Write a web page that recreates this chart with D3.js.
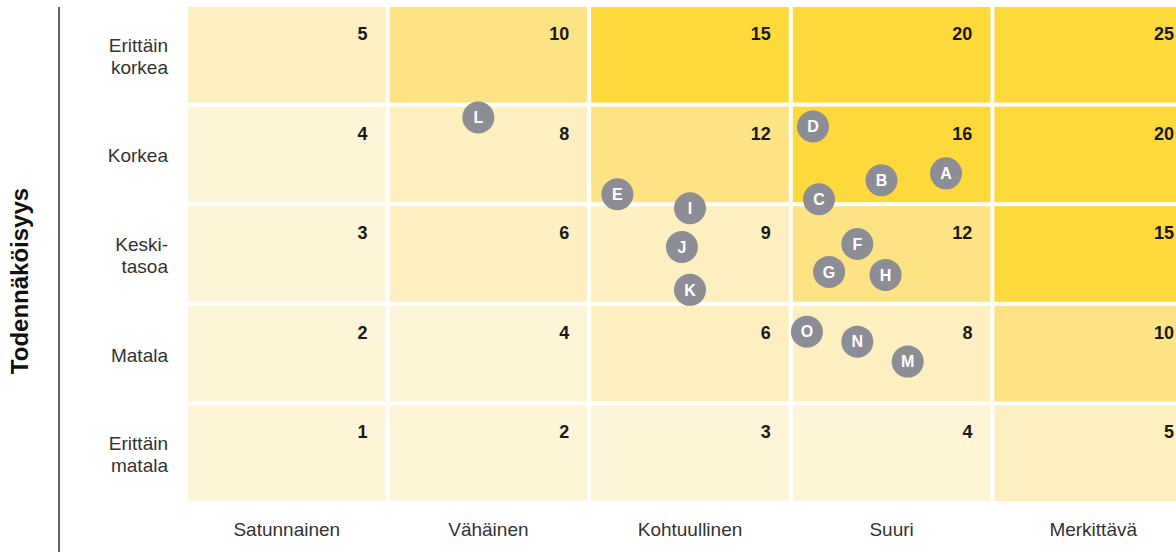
<!DOCTYPE html>
<html lang="fi">
<head>
    <meta charset="UTF-8">
    <title>Riskimatriisi</title>
    <style>
        body { margin: 0; background: #fff; }
        svg { display: block; font-family: "Liberation Sans", Arial, sans-serif; }
    </style>
</head>
<body>
    <div id="chart"></div>
    <script src="https://cdnjs.cloudflare.com/ajax/libs/d3/7.8.5/d3.min.js"></script>
    <script>
        // impact categories (x) and probability categories (y, bottom to top)
        let impactLabels = ["Satunnainen", "Vähäinen", "Kohtuullinen", "Suuri", "Merkittävä"];
        let probLabels = [
            ["Erittäin", "matala"],
            ["Matala"],
            ["Keski-", "tasoa"],
            ["Korkea"],
            ["Erittäin", "korkea"]
        ];

        // score in each cell, rows bottom to top
        let cellValues = [
            [1, 2, 3, 4, 5],
            [2, 4, 6, 8, 10],
            [3, 6, 9, 12, 15],
            [4, 8, 12, 16, 20],
            [5, 10, 15, 20, 25]
        ];

        // risk markers, position in impact / probability units
        let riskIds = ["A", "B", "C", "D", "E", "F", "G", "H", "I", "J", "K", "L", "M", "N", "O"];
        let riskImpact = [3.76, 3.44, 3.13, 3.10, 2.13, 3.32, 3.18, 3.46, 2.49, 2.45, 2.49, 1.44, 3.57, 3.32, 3.07];
        let riskProb = [3.33, 3.26, 3.07, 3.80, 3.12, 2.62, 2.34, 2.31, 2.98, 2.59, 2.16, 3.89, 1.44, 1.64, 1.74];

        const width = 1176, height = 552;
        const gap = 4;

        const svg = d3.select("#chart").append("svg")
            .attr("width", width)
            .attr("height", height);

        const x = d3.scaleLinear().domain([0, 5]).range([188, 188 + 5 * 201.6]);
        const y = d3.scaleLinear().domain([0, 5]).range([505, 7]);

        const color = d3.scaleThreshold()
            .domain([5, 10, 15])
            .range(["#fef5d8", "#fdefc0", "#fee385", "#fdd93c"]);

        let cells = [];
        cellValues.forEach((row, r) => {
            row.forEach((v, c) => cells.push({ r: r, c: c, v: v }));
        });

        const grid = svg.append("g");

        grid.selectAll("rect")
            .data(cells)
            .enter()
            .append("rect")
            .attr("x", d => x(d.c))
            .attr("y", d => y(d.r + 1))
            .attr("width", d => x(d.c + 1) - x(d.c) - gap)
            .attr("height", d => y(d.r) - y(d.r + 1) - gap)
            .attr("fill", d => color(d.v));

        grid.selectAll("text")
            .data(cells)
            .enter()
            .append("text")
            .attr("x", d => x(d.c + 1) - gap - 18)
            .attr("y", d => y(d.r + 1) + 33)
            .attr("text-anchor", "end")
            .style("font-size", "18px")
            .style("font-weight", "bold")
            .style("fill", "#1a1a1a")
            .text(d => d.v);

        // row labels
        const rowLab = svg.append("g").selectAll("text")
            .data(probLabels)
            .enter()
            .append("text")
            .attr("text-anchor", "end")
            .style("font-size", "19px")
            .style("fill", "#333");

        rowLab.each(function (lines, i) {
            const cy = (y(i) + y(i + 1) - gap) / 2;
            const t = d3.select(this);
            lines.forEach((s, k) => {
                t.append("tspan")
                    .attr("x", 168)
                    .attr("y", cy + 8 + (k - (lines.length - 1) / 2) * 22)
                    .text(s);
            });
        });

        // column labels
        svg.append("g").selectAll("text")
            .data(impactLabels)
            .enter()
            .append("text")
            .attr("x", (d, i) => (x(i) + x(i + 1) - gap) / 2)
            .attr("y", 536)
            .attr("text-anchor", "middle")
            .style("font-size", "19px")
            .style("fill", "#333")
            .text(d => d);

        // axis line + title
        svg.append("line")
            .attr("x1", 59).attr("x2", 59)
            .attr("y1", 7).attr("y2", height)
            .style("stroke", "#666")
            .style("stroke-width", 2);

        svg.append("text")
            .attr("transform", "translate(28, 281) rotate(-90)")
            .attr("text-anchor", "middle")
            .style("font-size", "24px")
            .style("font-weight", "bold")
            .style("fill", "#111")
            .text("Todennäköisyys");

        // markers
        const markers = svg.append("g").selectAll("g")
            .data(riskIds)
            .enter()
            .append("g")
            .attr("transform", (d, i) => `translate(${x(riskImpact[i])}, ${y(riskProb[i])})`);

        markers.append("circle")
            .attr("r", 16)
            .style("fill", "#8d8d95");

        markers.append("text")
            .attr("text-anchor", "middle")
            .attr("dy", "0.36em")
            .style("font-size", "16px")
            .style("font-weight", "bold")
            .style("fill", "#fff")
            .text(d => d);
    </script>
</body>
</html>
